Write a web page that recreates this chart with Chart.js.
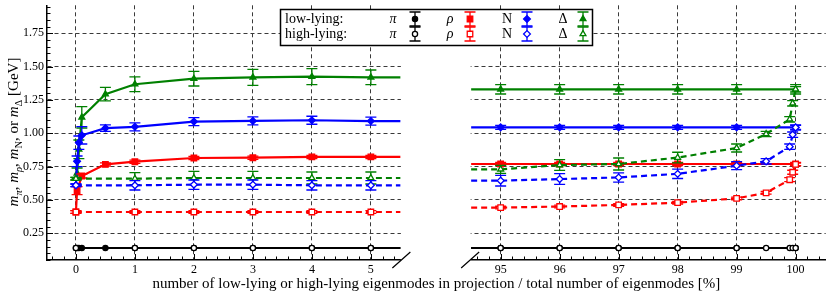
<!DOCTYPE html>
<html>
<head>
<meta charset="utf-8">
<script src="https://cdn.jsdelivr.net/npm/chart.js@4.4.0/dist/chart.umd.min.js"></script>
<style>
html, body { margin: 0; padding: 0; background: #fff; }
#wrap { width: 831px; height: 294px; }
</style>
</head>
<body>
<div id="wrap"><canvas id="myChart" width="831" height="294"></canvas></div>
<script>
// 왼쪽 패널 : 고유모드 개수 (low-lying)
const lowX = [0, 0.02, 0.05, 0.1, 0.5, 1, 2, 3, 4, 5];
const lowPi = [0.14, 0.14, 0.14, 0.14, 0.14, 0.14, 0.14, 0.14, 0.14, 0.14];
const lowRho = [0.41, 0.57, null, 0.68, 0.767, 0.787, 0.815, 0.817, 0.823, 0.823];
const lowN = [0.61, 0.79, 0.93, 0.985, 1.039, 1.049, 1.088, 1.093, 1.098, 1.092];
const lowDelta = [0.66, 0.70, 0.88, 1.12, 1.294, 1.368, 1.41, 1.42, 1.425, 1.42];
const lowPiErr = [0, 0, 0, 0, 0, 0, 0, 0, 0, 0];
const lowRhoErr = [0.01, 0.03, null, 0.015, 0.012, 0.012, 0.012, 0.012, 0.012, 0.012];
const lowNErr = [0.01, 0.04, 0.05, 0.065, 0.025, 0.03, 0.03, 0.03, 0.03, 0.03];
const lowDeltaErr = [0.01, 0.04, 0.07, 0.08, 0.05, 0.055, 0.055, 0.06, 0.06, 0.055];

// 왼쪽 패널 (high-lying)
const highX = [0, 1, 2, 3, 4, 5];
const highPi = [0.14, 0.14, 0.14, 0.14, 0.14, 0.14];
const highRho = [0.41, 0.41, 0.41, 0.41, 0.41, 0.41];
const highN = [0.61, 0.61, 0.615, 0.615, 0.61, 0.61];
const highDelta = [0.66, 0.66, 0.665, 0.665, 0.665, 0.665];
const highPiErr = [0, 0, 0, 0, 0, 0];
const highRhoErr = [0.01, 0.01, 0.01, 0.01, 0.01, 0.01];
const highNErr = [0.01, 0.035, 0.035, 0.035, 0.035, 0.035];
const highDeltaErr = [0.01, 0.045, 0.05, 0.05, 0.045, 0.045];

// 오른쪽 패널 : 전체 고유모드 대비 [%] (low-lying)
const lowXR = [95, 96, 97, 98, 99, 100];
const lowPiR = [0.14, 0.14, 0.14, 0.14, 0.14, 0.14];
const lowRhoR = [0.77, 0.77, 0.77, 0.77, 0.77, 0.77];
const lowNR = [1.045, 1.045, 1.045, 1.045, 1.045, 1.045];
const lowDeltaR = [1.33, 1.33, 1.33, 1.33, 1.33, 1.33];
const lowPiErrR = [0, 0, 0, 0, 0, 0];
const lowRhoErrR = [0.012, 0.012, 0.012, 0.012, 0.012, 0.012];
const lowNErrR = [0.015, 0.015, 0.015, 0.015, 0.015, 0.015];
const lowDeltaErrR = [0.035, 0.035, 0.035, 0.035, 0.035, 0.035];

// 오른쪽 패널 (high-lying)
const highXR = [95, 96, 97, 98, 99, 99.5, 99.9, 99.95, 100];
const highPiR = [0.14, 0.14, 0.14, 0.14, 0.14, 0.14, 0.14, 0.14, 0.14];
const highRhoR = [0.443, 0.451, 0.463, 0.48, 0.512, 0.554, 0.652, 0.708, 0.767];
const highNR = [0.645, 0.657, 0.669, 0.696, 0.757, 0.79, 0.90, 0.99, 1.044];
const highDeltaR = [0.73, 0.762, 0.77, 0.818, 0.89, 0.995, 1.105, 1.225, 1.33];
const highPiErrR = [0, 0, 0, 0, 0, 0, 0, 0, 0];
const highRhoErrR = [0.01, 0.01, 0.01, 0.01, 0.01, 0.01, 0.015, 0.015, 0.01];
const highNErrR = [0.04, 0.04, 0.035, 0.035, 0.03, 0.02, 0.02, 0.02, 0.02];
const highDeltaErrR = [0.03, 0.04, 0.045, 0.04, 0.03, 0.02, 0.02, 0.02, 0.02];

// 눈금 라벨
const xTicksL = [0, 1, 2, 3, 4, 5];
const xTicksR = [95, 96, 97, 98, 99, 100];
const yTicks = [0.25, 0.5, 0.75, 1.0, 1.25, 1.5, 1.75];

// 축 끊김 처리 : 오른쪽 패널 x -> 하나의 선형 축 위의 값
const OFFSET = 87.8;
const LEFT_EDGE = 5.5;     // 왼쪽 패널 끝
const RIGHT_EDGE = 94.5;   // 오른쪽 패널 시작
const toV = x => (x > 50 ? x - OFFSET : x);
const fromV = v => (v > 6 ? Math.round(v + OFFSET) : Math.round(v));

const SERIF = '"Liberation Serif", "DejaVu Serif", serif';
const particles = [
	{ name: 'pi', color: '#000000', style: 'circle', r: 2.6 },
	{ name: 'rho', color: '#ff0000', style: 'rect', r: 3.9 },
	{ name: 'N', color: '#0000ff', style: 'rectRot', r: 3.4 },
	{ name: 'Delta', color: '#008000', style: 'triangle', r: 3.4 }
];

function makeData(xs, ys, errs, side) {
	const pts = [];
	for (let i = 0; i < xs.length; i++) {
		if (ys[i] === null) continue;
		pts.push({ x: toV(xs[i]), y: ys[i], err: errs[i] });
	}
	// 패널 끝까지 선 연장 (마커 없음)
	if (side === 'L') pts.push({ x: LEFT_EDGE, y: pts[pts.length - 1].y, edge: true });
	else pts.unshift({ x: toV(RIGHT_EDGE), y: pts[0].y, edge: true });
	return pts;
}

const series = [
	// high-lying 먼저 (위에 그려짐)
	['high', 'L', highX, [highPi, highRho, highN, highDelta], [highPiErr, highRhoErr, highNErr, highDeltaErr]],
	['high', 'R', highXR, [highPiR, highRhoR, highNR, highDeltaR], [highPiErrR, highRhoErrR, highNErrR, highDeltaErrR]],
	['low', 'L', lowX, [lowPi, lowRho, lowN, lowDelta], [lowPiErr, lowRhoErr, lowNErr, lowDeltaErr]],
	['low', 'R', lowXR, [lowPiR, lowRhoR, lowNR, lowDeltaR], [lowPiErrR, lowRhoErrR, lowNErrR, lowDeltaErrR]]
];

const datasets = [];
series.forEach(s => {
	const kind = s[0], side = s[1], xs = s[2];
	particles.forEach((p, j) => {
		const open = kind === 'high';
		datasets.push({
			label: p.name + ' ' + kind,
			data: makeData(xs, s[3][j], s[4][j], side),
			borderColor: p.color,
			borderWidth: 2.2,
			borderDash: open ? [6, 4] : [],
			pointStyle: p.style,
			pointRadius: ctx => (ctx.raw && ctx.raw.edge) ? 0 : p.r,
			pointBackgroundColor: open ? '#ffffff' : p.color,
			pointBorderColor: p.color,
			pointBorderWidth: 1.3,
			tension: 0,
			fill: false
		});
	});
});

// 오차 막대
const errorBars = {
	id: 'errorBars',
	beforeDatasetDraw(chart, args) {
		const ctx = chart.ctx, y = chart.scales.y;
		const ds = chart.data.datasets[args.index];
		ctx.save();
		ctx.strokeStyle = ds.borderColor;
		ctx.lineWidth = 1.3;
		args.meta.data.forEach((el, i) => {
			const raw = ds.data[i];
			if (raw.edge || !raw.err) return;
			const yt = y.getPixelForValue(raw.y + raw.err);
			const yb = y.getPixelForValue(raw.y - raw.err);
			ctx.beginPath();
			ctx.moveTo(el.x, yt); ctx.lineTo(el.x, yb);
			ctx.moveTo(el.x - 5.5, yt); ctx.lineTo(el.x + 5.5, yt);
			ctx.moveTo(el.x - 5.5, yb); ctx.lineTo(el.x + 5.5, yb);
			ctx.stroke();
		});
		ctx.restore();
	}
};

// 패널 사이 간격 지우기 + 안쪽 눈금
const axisDeco = {
	id: 'axisDeco',
	beforeDatasetsDraw(chart) {
		const { ctx, chartArea: a, scales: { x, y } } = chart;
		const gL = x.getPixelForValue(LEFT_EDGE), gR = x.getPixelForValue(toV(RIGHT_EDGE));
		ctx.save();
		ctx.fillStyle = '#ffffff';
		ctx.fillRect(gL + 0.5, a.top - 1, gR - gL - 1, a.bottom - a.top + 4);
		ctx.strokeStyle = '#000';
		ctx.lineWidth = 1;
		ctx.beginPath();
		for (let k = 1; k <= 39; k++) {
			const v = k * 0.05;
			if (v < y.min || v > y.max) continue;
			const py = Math.round(y.getPixelForValue(v)) + 0.5;
			const len = (k % 5 === 0) ? 6 : 3.5;
			ctx.moveTo(a.left, py); ctx.lineTo(a.left + len, py);
		}
		const xt = (k) => {
			const v = toV(k * 0.2);
			const px = Math.round(x.getPixelForValue(v)) + 0.5;
			const len = (k % 5 === 0) ? 6 : 3.5;
			ctx.moveTo(px, a.bottom); ctx.lineTo(px, a.bottom - len);
		};
		for (let k = -2; k <= 27; k++) xt(k);
		for (let k = 473; k <= 502; k++) xt(k);
		ctx.stroke();
		ctx.restore();
	},
	afterDraw(chart) {
		const { ctx, chartArea: a, scales: { x } } = chart;
		const gL = x.getPixelForValue(LEFT_EDGE), gR = x.getPixelForValue(toV(RIGHT_EDGE));
		ctx.save();
		// 끊김 표시
		ctx.strokeStyle = '#000';
		ctx.lineWidth = 1.2;
		ctx.beginPath();
		ctx.moveTo(gL - 8, a.bottom + 8); ctx.lineTo(gL + 10, a.bottom - 8);
		ctx.moveTo(gR - 10, a.bottom + 8); ctx.lineTo(gR + 8, a.bottom - 8);
		ctx.stroke();

		// y축 제목 (아래첨자)
		const parts = [
			['m', 'italic', 0], ['π', 'italic', 1], [', ', '', 0],
			['m', 'italic', 0], ['ρ', 'italic', 1], [', ', '', 0],
			['m', 'italic', 0], ['N', '', 1], [', or ', '', 0],
			['m', 'italic', 0], ['Δ', '', 1], [' [GeV]', '', 0]
		];
		const fontOf = p => (p[1] ? p[1] + ' ' : '') + (p[2] ? '10.5px ' : '15px ') + SERIF;
		let total = 0;
		parts.forEach(p => { ctx.font = fontOf(p); total += ctx.measureText(p[0]).width; });
		ctx.translate(18, 132);
		ctx.rotate(-Math.PI / 2);
		ctx.fillStyle = '#000';
		ctx.textBaseline = 'alphabetic';
		let cx = -total / 2;
		parts.forEach(p => {
			ctx.font = fontOf(p);
			ctx.fillText(p[0], cx, p[2] ? 4 : 0);
			cx += ctx.measureText(p[0]).width;
		});
		ctx.restore();

		// 범례
		ctx.save();
		ctx.fillStyle = '#fff';
		ctx.fillRect(280.5, 9.5, 312, 36);
		ctx.strokeStyle = '#000';
		ctx.lineWidth = 1.5;
		ctx.strokeRect(280.5, 9.5, 312, 36);
		ctx.fillStyle = '#000';
		ctx.textBaseline = 'middle';
		ctx.font = '14px ' + SERIF;
		ctx.textAlign = 'left';
		ctx.fillText('low-lying:', 285, 19);
		ctx.fillText('high-lying:', 285, 34);
		const syms = [['π', 'italic ', 393], ['ρ', 'italic ', 450], ['N', '', 507], ['Δ', '', 563]];
		const mx = [415, 470, 527, 583];
		[19, 34].forEach((ry, row) => {
			syms.forEach((s, j) => {
				ctx.fillStyle = '#000';
				ctx.font = s[1] + '14px ' + SERIF;
				ctx.textAlign = 'center';
				ctx.fillText(s[0], s[2], ry);
				const p = particles[j];
				ctx.strokeStyle = p.color;
				ctx.lineWidth = 1.3;
				ctx.beginPath();
				ctx.moveTo(mx[j], ry - 7); ctx.lineTo(mx[j], ry + 7);
				ctx.moveTo(mx[j] - 5.5, ry - 7); ctx.lineTo(mx[j] + 5.5, ry - 7);
				ctx.moveTo(mx[j] - 5.5, ry + 7); ctx.lineTo(mx[j] + 5.5, ry + 7);
				ctx.stroke();
				ctx.fillStyle = row === 0 ? p.color : '#fff';
				if (Chart.helpers && Chart.helpers.drawPoint) {
					Chart.helpers.drawPoint(ctx, { pointStyle: p.style, radius: p.r, rotation: 0, borderWidth: 1.3 }, mx[j], ry);
				} else {
					ctx.beginPath(); ctx.arc(mx[j], ry, p.r, 0, Math.PI * 2); ctx.fill(); ctx.stroke();
				}
			});
		});
		ctx.restore();
	}
};

const ctx = document.getElementById('myChart');

new Chart(ctx, {
	type: 'line',
	data: { datasets: datasets },
	options: {
		responsive: false,
		animation: false,
		devicePixelRatio: 1,
		layout: { padding: { left: 0, right: 4, top: 0, bottom: 0 } },
		plugins: { legend: { display: false }, tooltip: { enabled: false } },
		scales: {
			x: {
				type: 'linear',
				min: -0.49,
				max: 12.71,
				afterBuildTicks: s => { s.ticks = xTicksL.concat(xTicksR).map(v => ({ value: toV(v) })); },
				afterFit: s => { s.height = 34; s.paddingLeft = 0; s.paddingRight = 0; },
				ticks: {
					callback: v => String(fromV(v)),
					font: { family: SERIF, size: 12 },
					color: '#000',
					padding: 3,
					maxRotation: 0,
					autoSkip: false
				},
				grid: { color: '#3a3a3a', lineWidth: 1, drawTicks: false },
				border: { color: '#000', width: 1.5, dash: [4, 3] },
				title: {
					display: true,
					text: 'number of low-lying or high-lying eigenmodes in projection / total number of eigenmodes [%]',
					font: { family: SERIF, size: 15 },
					color: '#000',
					padding: { top: 0, bottom: 1 }
				}
			},
			y: {
				type: 'linear',
				min: 0.05,
				max: 1.96,
				afterBuildTicks: s => { s.ticks = yTicks.map(v => ({ value: v })); },
				afterFit: s => { s.width = 47; s.paddingTop = 0; s.paddingBottom = 0; },
				ticks: {
					callback: v => v.toFixed(2),
					font: { family: SERIF, size: 12 },
					color: '#000',
					padding: 3
				},
				grid: { color: '#3a3a3a', lineWidth: 1, drawTicks: false },
				border: { color: '#000', width: 1.5, dash: [4, 3] }
			}
		}
	},
	plugins: [errorBars, axisDeco]
});
</script>
</body>
</html>
